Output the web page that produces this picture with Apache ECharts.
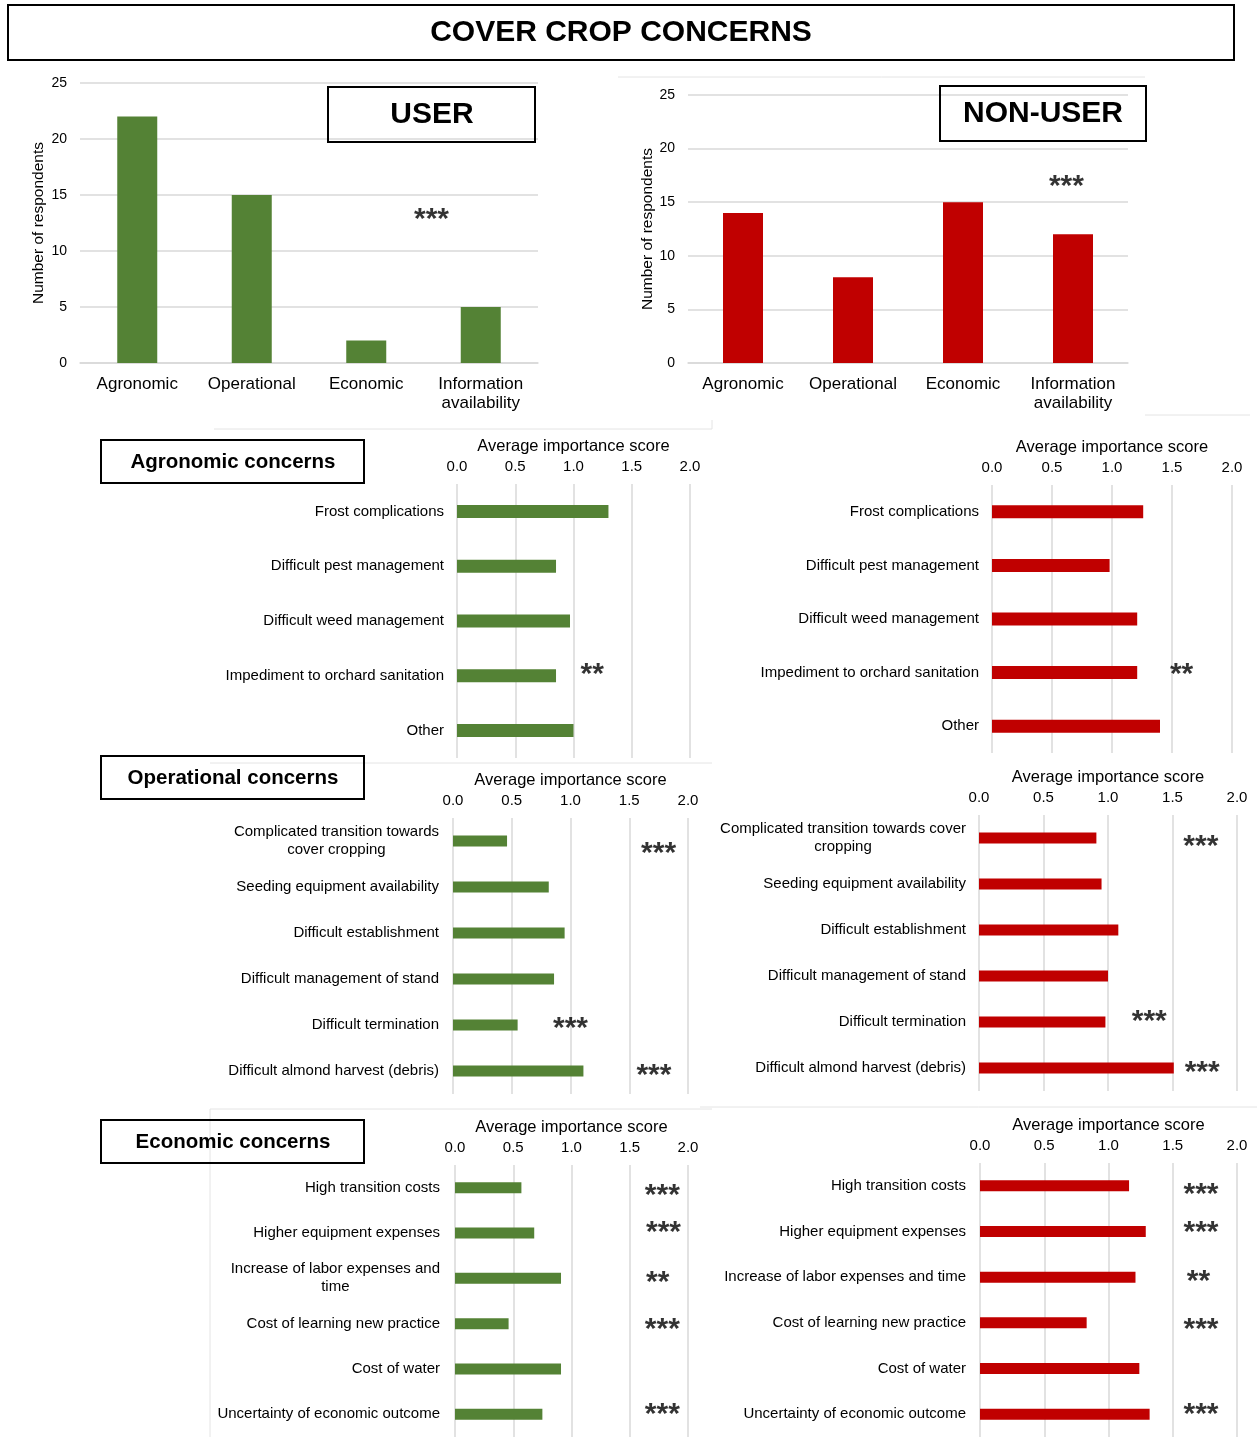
<!DOCTYPE html>
<html>
<head>
<meta charset="utf-8">
<title>Cover crop concerns</title>
<script src="https://cdn.jsdelivr.net/npm/echarts@6/dist/echarts.min.js"></script>
<style>
  html, body { margin: 0; padding: 0; background: #fff; }
  #chart { width: 1257px; height: 1437px; }
</style>
</head>
<body>
<div id="chart"></div>
<script>
// ---- Respondent counts by concern group ----
const groupCategories = ['Agronomic', 'Operational', 'Economic', 'Information availability'];
const userCounts = [22, 15, 2, 5];
const nonUserCounts = [14, 8, 15, 12];

// ---- Agronomic concerns (average importance score) ----
const agronomicItems = ['Frost complications', 'Difficult pest management', 'Difficult weed management',
  'Impediment to orchard sanitation', 'Other'];
const agronomicUser = [1.30, 0.85, 0.97, 0.85, 1.00];
const agronomicNonUser = [1.26, 0.98, 1.21, 1.21, 1.40];
const agronomicSignif = [null, null, null, '**', null];

// ---- Operational concerns ----
const operationalItemsUser = ['Complicated transition towards\ncover cropping', 'Seeding equipment availability',
  'Difficult establishment', 'Difficult management of stand', 'Difficult termination',
  'Difficult almond harvest (debris)'];
const operationalItemsNonUser = ['Complicated transition towards cover\ncropping', 'Seeding equipment availability',
  'Difficult establishment', 'Difficult management of stand', 'Difficult termination',
  'Difficult almond harvest (debris)'];
const operationalUser = [0.46, 0.815, 0.95, 0.86, 0.55, 1.11];
const operationalNonUser = [0.91, 0.95, 1.08, 1.00, 0.98, 1.51];
const operationalSignif = ['***', null, null, null, '***', '***'];

// ---- Economic concerns ----
const economicItemsUser = ['High transition costs', 'Higher equipment expenses',
  'Increase of labor expenses and\ntime', 'Cost of learning new practice', 'Cost of water',
  'Uncertainty of economic outcome'];
const economicItemsNonUser = ['High transition costs', 'Higher equipment expenses',
  'Increase of labor expenses and time', 'Cost of learning new practice', 'Cost of water',
  'Uncertainty of economic outcome'];
const economicUser = [0.57, 0.68, 0.91, 0.46, 0.91, 0.75];
const economicNonUser = [1.16, 1.29, 1.21, 0.83, 1.24, 1.32];
const economicSignif = ['***', '***', '**', '***', null, '***'];

// ---- Axis ticks ----
const countTicks = { min: 0, max: 25, interval: 5 };
const scoreTicks = { min: 0, max: 2, interval: 0.5 };

// ---- Styling and layout ----
const FONT = "'Liberation Sans', Arial, Helvetica, sans-serif";
const GREEN = '#548235';
const RED = '#C00000';
const GRID = '#d9d9d9';
const STAR_FONT = 30;
const STAR_LIFT = 5; // asterisks sit high in the line box

const starLabel = {
  show: true, position: 'inside', formatter: '{b}', color: '#000',
  textBorderWidth: 0, textBorderColor: 'transparent',
  fontSize: STAR_FONT, fontWeight: 'bold', fontFamily: FONT
};

const grids = [], xAxes = [], yAxes = [], series = [];

function addCountChart(box, counts, color, star) {
  const g = grids.length;
  grids.push(box);
  const xi = xAxes.length;
  xAxes.push({
    type: 'category', gridIndex: g, data: groupCategories,
    axisLine: { lineStyle: { color: GRID, width: 1.5 } },
    axisTick: { show: false },
    axisLabel: {
      color: '#000', fontSize: 17, fontFamily: FONT, margin: 12, lineHeight: 19, interval: 0,
      formatter: v => v.replace(' ', '\n')
    }
  });
  // hidden continuous x scale for placing the significance marker between columns
  const xs = xAxes.length;
  xAxes.push({ type: 'value', gridIndex: g, min: -0.5, max: groupCategories.length - 0.5, show: false });
  const yi = yAxes.length;
  yAxes.push({
    type: 'value', gridIndex: g, min: countTicks.min, max: countTicks.max, interval: countTicks.interval,
    name: 'Number of respondents', nameLocation: 'middle', nameGap: box.nameGap,
    nameTextStyle: { color: '#000', fontSize: 15.5, fontFamily: FONT },
    axisLabel: { color: '#000', fontSize: 14, fontFamily: FONT, margin: 13 },
    axisLine: { show: false }, axisTick: { show: false },
    splitLine: { lineStyle: { color: GRID, width: 1.5 } }
  });
  series.push({
    type: 'bar', xAxisIndex: xi, yAxisIndex: yi, data: counts, barWidth: 40,
    itemStyle: { color: color }, silent: true
  });
  series.push({
    type: 'scatter', xAxisIndex: xs, yAxisIndex: yi, symbolSize: 1, silent: true,
    itemStyle: { color: 'rgba(0,0,0,0)' },
    data: [{ name: star.text, value: star.at }],
    label: Object.assign({}, starLabel, { offset: [0, STAR_LIFT] })
  });
}

function addScorePanel(box, items, values, color, barWidth, signif, signifX, nudge) {
  const g = grids.length;
  grids.push({ left: box.left, top: box.top, width: box.width, height: box.height });
  const xi = xAxes.length;
  xAxes.push({
    type: 'value', gridIndex: g, position: 'top',
    min: scoreTicks.min, max: scoreTicks.max, interval: scoreTicks.interval,
    name: 'Average importance score', nameLocation: 'middle', nameGap: 29,
    nameTextStyle: { color: '#000', fontSize: 16.5, fontFamily: FONT },
    axisLabel: { color: '#000', fontSize: 15, fontFamily: FONT, margin: 10, formatter: v => v.toFixed(1) },
    axisLine: { show: false }, axisTick: { show: false },
    splitLine: { lineStyle: { color: GRID, width: 1.5 } }
  });
  const yi = yAxes.length;
  yAxes.push({
    type: 'category', gridIndex: g, inverse: true, data: items,
    axisLine: { show: false }, axisTick: { show: false },
    axisLabel: {
      margin: box.labelGap, interval: 0,
      formatter: v => v.split('\n').map(s => '{c|' + s + '}').join('\n'),
      rich: { c: { align: 'center', color: '#000', fontSize: 15, lineHeight: 18, fontFamily: FONT } }
    }
  });
  series.push({
    type: 'bar', xAxisIndex: xi, yAxisIndex: yi, data: values, barWidth: barWidth,
    itemStyle: { color: color }, silent: true
  });
  const marks = [];
  signif.forEach((s, i) => {
    if (!s) return;
    marks.push({
      name: s, value: [signifX[i], i],
      label: { offset: [0, STAR_LIFT + (nudge[i] || 0)] }
    });
  });
  series.push({
    type: 'scatter', xAxisIndex: xi, yAxisIndex: yi, symbolSize: 1, silent: true,
    itemStyle: { color: 'rgba(0,0,0,0)' }, data: marks,
    label: starLabel
  });
}

// top column charts
addCountChart({ left: 80, top: 83, width: 458, height: 280, nameGap: 33 }, userCounts, GREEN,
  { text: '***', at: [2.57, 13.2] });
addCountChart({ left: 688, top: 95, width: 440, height: 268, nameGap: 31 }, nonUserCounts, RED,
  { text: '***', at: [2.94, 16.9] });

// agronomic
addScorePanel({ left: 457, top: 484, width: 233, height: 274, labelGap: 13 }, agronomicItems, agronomicUser,
  GREEN, 13, agronomicSignif, [0, 0, 0, 1.16, 0], [0, 0, 0, -6, 0]);
addScorePanel({ left: 992, top: 485, width: 240, height: 268, labelGap: 13 }, agronomicItems, agronomicNonUser,
  RED, 13, agronomicSignif, [0, 0, 0, 1.58, 0], [0, 0, 0, -3, 0]);

// operational
addScorePanel({ left: 453, top: 818, width: 235, height: 276, labelGap: 14 }, operationalItemsUser, operationalUser,
  GREEN, 11, operationalSignif, [1.75, 0, 0, 0, 1.00, 1.71], [8, 0, 0, 0, -1, 0]);
addScorePanel({ left: 979, top: 815, width: 258, height: 276, labelGap: 13 }, operationalItemsNonUser, operationalNonUser,
  RED, 11, operationalSignif, [1.72, 0, 0, 0, 1.32, 1.73], [4, 0, 0, 0, -5, 0]);

// economic
addScorePanel({ left: 455, top: 1165, width: 233, height: 276, labelGap: 15 }, economicItemsUser, economicUser,
  GREEN, 11, economicSignif, [1.78, 1.79, 1.74, 1.78, 0, 1.78], [3, -5, -1, 1, 0, -5]);
addScorePanel({ left: 980, top: 1163, width: 257, height: 276, labelGap: 14 }, economicItemsNonUser, economicNonUser,
  RED, 11, economicSignif, [1.72, 1.72, 1.70, 1.72, 0, 1.72], [4, -4, 0, 2, 0, -4]);

// frames, headings and faint panel borders
const FAINT = '#e4e4e4';
function line(x1, y1, x2, y2) {
  return { type: 'line', shape: { x1, y1, x2, y2 }, style: { stroke: FAINT, lineWidth: 1 }, z: -1, silent: true };
}
function frame(x, y, w, h) {
  return { type: 'rect', shape: { x, y, width: w, height: h }, style: { fill: 'none', stroke: '#000', lineWidth: 2 }, z: 5, silent: true };
}
function heading(text, x, y, size) {
  return {
    type: 'text', x, y, z: 6, silent: true,
    style: { text, fill: '#000', font: 'bold ' + size + 'px ' + FONT, textAlign: 'center', textVerticalAlign: 'middle' }
  };
}

const graphics = [
  line(618, 77, 1145, 77),
  line(1145, 415, 1250, 415),
  line(214, 429, 712, 429),
  line(712, 420, 712, 429),
  line(210, 763, 712, 763),
  line(210, 1109, 712, 1109),
  line(700, 1107, 1257, 1107),
  line(210, 1109, 210, 1437),
  frame(8, 5, 1226, 55),
  heading('COVER CROP CONCERNS', 621, 33, 30),
  frame(328, 87, 207, 55),
  heading('USER', 432, 115, 30),
  frame(940, 86, 206, 55),
  heading('NON-USER', 1043, 114, 30),
  frame(101, 440, 263, 43),
  heading('Agronomic concerns', 233, 462, 20.5),
  frame(101, 756, 263, 43),
  heading('Operational concerns', 233, 778, 20.5),
  frame(101, 1120, 263, 43),
  heading('Economic concerns', 233, 1142, 20.5)
];

const chart = echarts.init(document.getElementById('chart'), null, { renderer: 'canvas' });
chart.setOption({
  backgroundColor: '#fff',
  animation: false,
  textStyle: { fontFamily: FONT },
  grid: grids.map(b => ({ left: b.left, top: b.top, width: b.width, height: b.height, containLabel: false })),
  xAxis: xAxes,
  yAxis: yAxes,
  series: series,
  graphic: graphics
});
</script>
</body>
</html>
